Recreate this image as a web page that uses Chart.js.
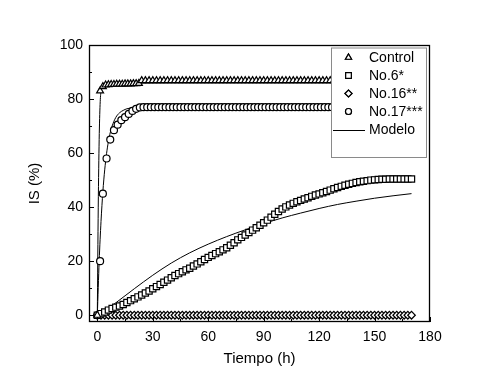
<!DOCTYPE html>
<html>
<head>
<meta charset="utf-8">
<script src="https://cdn.jsdelivr.net/npm/chart.js@4/dist/chart.umd.min.js"></script>
<style>
html,body{margin:0;padding:0;background:#fff;}
canvas{display:block;}
</style>
</head>
<body>
<canvas id="c" width="499" height="386"></canvas>
<script>
// ---- data ----
const xTicks = [0, 30, 60, 90, 120, 150, 180];
const yTicks = [0, 20, 40, 60, 80, 100];
const xMinorTicks = [15, 45, 75, 105, 135, 165];
const yMinorTicks = [10, 30, 50, 70, 90];

const legendLabels = ['Control', 'No.6*', 'No.16**', 'No.17***', 'Modelo'];

const time2h = [0,2,4,6,8,10,12,14,16,18,20,22,24,26,28,30,32,34,36,38,40,42,44,46,48,50,52,54,56,58,60,62,64,66,68,70,72,74,76,78,80,82,84,86,88,90,92,94,96,98,100,102,104,106,108,110,112,114,116,118,120,122,124,126,128,130,132,134,136,138,140,142,144,146,148,150,152,154,156,158,160,162,164,166,168,170];

const controlTime = [0,1.5,3,4.5,6,7.5,9,10.5,12,13.5,15,16.5,18,19.5,21,22.5,24,26,28,30,32,34,36,38,40,42,44,46,48,50,52,54,56,58,60,62,64,66,68,70,72,74,76,78,80,82,84,86,88,90,92,94,96,98,100,102,104,106,108,110,112,114,116,118,120,122,124,126,128,130,132,134,136,138,140,142,144,146,148,150,152,154,156,158,160,162,164,166,168,170];
const controlIS = [0,83,84.6,85.2,85.3,85.4,85.4,85.5,85.5,85.5,85.6,85.6,85.6,85.7,85.7,85.8,86.8,86.8,86.8,86.8,86.8,86.8,86.8,86.8,86.8,86.8,86.8,86.8,86.8,86.8,86.8,86.8,86.8,86.8,86.8,86.8,86.8,86.8,86.8,86.8,86.8,86.8,86.8,86.8,86.8,86.8,86.8,86.8,86.8,86.8,86.8,86.8,86.8,86.8,86.8,86.8,86.8,86.8,86.8,86.8,86.8,86.8,86.8,86.8,86.8,86.8,86.8,86.8,86.8,86.8,86.8,86.8,86.8,86.8,86.8,86.8,86.8,86.8,86.8,86.8,86.8,86.8,86.8,86.8,86.8,86.8];

const no6IS = [0,0.6,1.2,1.9,2.5,3.0,3.4,4.0,4.7,5.4,
  6.1,6.8,7.5,8.2,9.0,9.8,10.6,11.4,12.2,13.0,
  13.9,14.7,15.4,16.1,16.8,17.4,18.2,19.0,19.8,20.6,
  21.4,22.1,22.8,23.5,24.2,25.0,25.9,26.8,27.9,28.8,
  29.7,30.6,31.5,32.4,33.3,34.2,35.2,36.3,37.4,38.4,
  39.3,40.1,40.8,41.4,42.0,42.5,43.0,43.5,44.0,44.5,
  44.9,45.3,45.8,46.3,46.8,47.3,47.7,48.1,48.5,48.8,
  49.1,49.4,49.6,49.8,50.0,50.1,50.2,50.3,50.3,50.4,
  50.4,50.4,50.4,50.4,50.4,50.4];

const no16IS = [0,0,0,0,0,0,0,0,0,0,0,0,0,0,0,0,0,0,0,0,0,0,0,0,0,0,0,0,0,0,0,0,0,0,0,0,0,0,0,0,0,0,0,0,0,0,0,0,0,0,0,0,0,0,0,0,0,0,0,0,0,0,0,0,0,0,0,0,0,0,0,0,0,0,0,0,0,0,0,0,0,0,0,0,0,0];

const no17Time = [0,1.5,3,5,7,9,11,13,15,17,19,21,23,25,27,29,31,33,35,37,39,41,43,45,47,49,51,53,55,57,59,61,63,65,67,69,71,73,75,77,79,81,83,85,87,89,91,93,95,97,99,101,103,105,107,109,111,113,115,117,119,121,123,125,127,129,131,133,135,137,139,141,143,145,147,149,151,153,155,157,159,161,163,165,167,169];
const no17IS = [0,20,45,58,65,68.5,70.5,72.2,73.3,74.5,75.6,76.4,76.9,77,77,77,77,77,77,77,77,77,77,77,77,77,77,77,77,77,77,77,77,77,77,77,77,77,77,77,77,77,77,77,77,77,77,77,77,77,77,77,77,77,77,77,77,77,77,77,77,77,77,77,77,77,77,77,77,77,77,77,77,77,77,77,77,77,77,77,77,77,77,77,77,77];

const modelControlTime = [0,0.5,1,1.5,2,3,5,10,20,40,80,120,170];
const modelControlIS   = [0,40,65,78,83,85.2,85.7,85.8,85.9,86,86,86,86];

const modelNo17Time = [0,1,2,3,4,5,6,7,8,10,12,14,16,20,25,40,80,120,170];
const modelNo17IS   = [0,20,34.7,45.7,53.8,59.8,64.3,67.6,70,73.2,74.9,75.8,76.4,76.8,77,77,77,77,77];

const modelNo6Time = [0,5,10,15,20,30,40,50,60,70,80,90,100,110,120,130,140,150,160,170];
const modelNo6IS   = [0,2.2,4.6,7.2,9.8,14.8,19.3,23.1,26.3,29.1,31.6,33.9,36.0,37.8,39.5,41.0,42.2,43.3,44.2,45.0];

// ---- helpers ----
const pts = (xs, ys) => xs.map((x, i) => ({x: x, y: ys[i]}));
const FONT = "'Liberation Sans', Arial, sans-serif";

function markerSet(label, data, style, r) {
  return {label, data, showLine: false, pointStyle: style, pointRadius: r,
    pointBorderWidth: 1.2, pointBorderColor: '#000', pointBackgroundColor: '#fff',
    borderColor: '#000', backgroundColor: '#fff'};
}
function modelSet(data) {
  return {label: 'Modelo', data, showLine: true, pointRadius: 0, borderWidth: 1,
    borderColor: '#000', backgroundColor: '#000', cubicInterpolationMode: 'monotone', fill: false};
}

const framePlugin = {
  id: 'frame',
  afterDatasetsDraw(chart) {
    const {ctx, chartArea: a, scales: {x, y}} = chart;
    ctx.save();
    ctx.strokeStyle = '#000';
    ctx.lineWidth = 1.3;
    ctx.strokeRect(a.left + 0.5, a.top + 0.5, a.right - a.left - 1, a.bottom - a.top - 1);
    ctx.lineWidth = 1;
    ctx.beginPath();
    xTicks.forEach(v => { const p = Math.round(x.getPixelForValue(v)) + 0.5; ctx.moveTo(p, a.bottom); ctx.lineTo(p, a.bottom - 5); });
    xMinorTicks.forEach(v => { const p = Math.round(x.getPixelForValue(v)) + 0.5; ctx.moveTo(p, a.bottom); ctx.lineTo(p, a.bottom - 3); });
    yTicks.forEach(v => { const p = Math.round(y.getPixelForValue(v)) + 0.5; ctx.moveTo(a.left, p); ctx.lineTo(a.left + 5, p); });
    yMinorTicks.forEach(v => { const p = Math.round(y.getPixelForValue(v)) + 0.5; ctx.moveTo(a.left, p); ctx.lineTo(a.left + 3, p); });
    ctx.stroke();
    ctx.restore();
  },
  afterDraw(chart) {
    // legend box inside plot, top-right
    const {ctx, chartArea: a} = chart;
    const bx = a.right - 99, by = a.top + 2.5, bw = 95, bh = 109.5;
    ctx.save();
    ctx.fillStyle = '#fff';
    ctx.fillRect(bx, by, bw, bh);
    ctx.strokeStyle = '#8a8a8a';
    ctx.lineWidth = 1;
    ctx.strokeRect(bx + 0.5, by + 0.5, bw, bh);
    const styles = ['triangle', 'rect', 'rectRot', 'circle'];
    const radii = [3.5, 4, 3.5, 3];
    const sx = bx + 17.5, tx = bx + 38;
    ctx.font = '14px ' + FONT;
    ctx.fillStyle = '#000';
    ctx.textBaseline = 'middle';
    ctx.textAlign = 'left';
    for (let i = 0; i < 5; i++) {
      const yy = by + 10 + i * 18;
      if (i < 4) {
        ctx.strokeStyle = '#000'; ctx.lineWidth = 1.2; ctx.fillStyle = '#fff';
        Chart.helpers.drawPoint(ctx, {pointStyle: styles[i], radius: radii[i], borderWidth: 1.2}, sx, yy);
        ctx.fill(); ctx.stroke();
      } else {
        ctx.strokeStyle = '#000'; ctx.lineWidth = 1;
        ctx.beginPath(); ctx.moveTo(bx + 2, Math.round(yy) + 0.5); ctx.lineTo(bx + 34, Math.round(yy) + 0.5); ctx.stroke();
      }
      ctx.fillStyle = '#000';
      ctx.fillText(legendLabels[i], tx, yy + 1);
    }
    ctx.restore();
  }
};

new Chart(document.getElementById('c'), {
  type: 'scatter',
  data: {
    datasets: [
      markerSet('Control', pts(controlTime, controlIS), 'triangle', 4),
      markerSet('No.6*', pts(time2h, no6IS), 'rect', 4.4),
      markerSet('No.16**', pts(time2h, no16IS), 'rectRot', 3.8),
      markerSet('No.17***', pts(no17Time, no17IS), 'circle', 3.5),
      modelSet(pts(modelControlTime, modelControlIS)),
      modelSet(pts(modelNo17Time, modelNo17IS)),
      modelSet(pts(modelNo6Time, modelNo6IS))
    ]
  },
  options: {
    responsive: false,
    animation: false,
    devicePixelRatio: 1,
    layout: {padding: {top: 45, right: 69, left: 0, bottom: 0}},
    plugins: {legend: {display: false}, tooltip: {enabled: false}},
    scales: {
      x: {
        type: 'linear', min: -4.5, max: 180,
        afterBuildTicks: s => { s.ticks = xTicks.map(v => ({value: v})); },
        afterFit: s => { s.height = 64; },
        grid: {display: false, drawTicks: false},
        border: {display: false},
        ticks: {padding: 7, color: '#000', autoSkip: false, maxRotation: 0, font: {family: FONT, size: 14}},
        title: {display: true, text: 'Tiempo (h)', color: '#000', font: {family: FONT, size: 15}, padding: {top: 0, bottom: 18}}
      },
      y: {
        type: 'linear', min: -2.5, max: 100,
        afterBuildTicks: s => { s.ticks = yTicks.map(v => ({value: v})); },
        afterFit: s => { s.width = 89; },
        grid: {display: false, drawTicks: false},
        border: {display: false},
        ticks: {padding: 6, color: '#000', autoSkip: false, font: {family: FONT, size: 14}},
        title: {display: true, text: 'IS (%)', color: '#000', font: {family: FONT, size: 15}, padding: {top: 26, bottom: 0}}
      }
    }
  },
  plugins: [framePlugin]
});
</script>
</body>
</html>
